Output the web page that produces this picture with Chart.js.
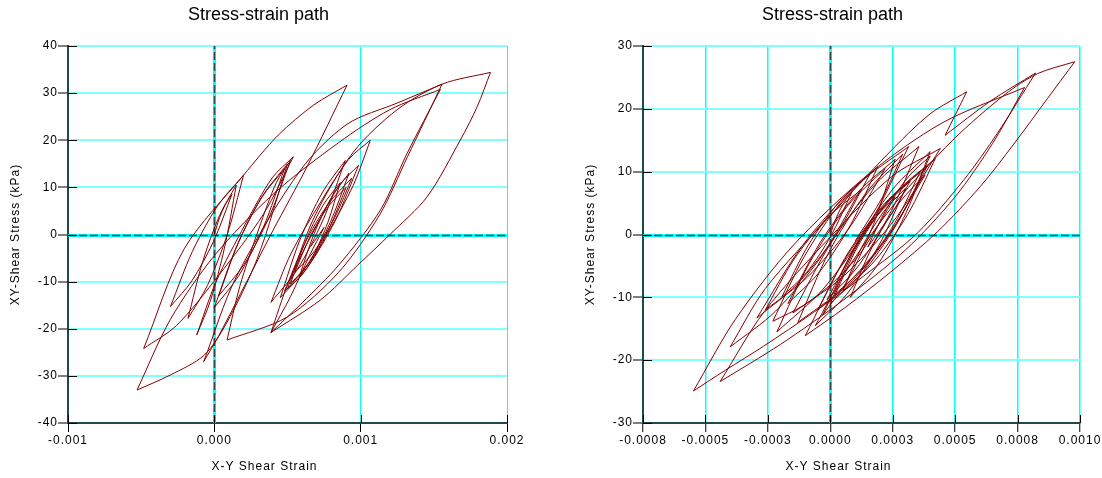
<!DOCTYPE html>
<html>
<head>
<meta charset="utf-8">
<title>Stress-strain path</title>
<script src="https://cdn.jsdelivr.net/npm/chart.js@4"></script>
<style>
  html, body { margin: 0; padding: 0; background: #fff; }
  #wrap { position: relative; width: 1102px; height: 478px; }
  canvas { position: absolute; top: 0; }
  #leftChart { left: 0; }
  #rightChart { left: 575px; }
</style>
</head>
<body>
<div id="wrap">
  <canvas id="leftChart" width="575" height="478"></canvas>
  <canvas id="rightChart" width="527" height="478"></canvas>
</div>
<script>
// Left panel path: strain (x 1e-4) and stress (kPa), in drawing order
const leftStrainE4 = [
  0, 0.36, 0.78, 1.2,
  -0.06, -1.53, -3.0,
  -1.5, 0.25, 2.0,
  0.86, -0.47, -1.8,
  -0.81, 0.35, 1.5,
  0.69, -0.26, -1.2,
  0.12, 2.1, 3.95, 5.4,
  3.35, 0.29, -2.58, -4.83,
  -2.05, 2.0, 4.37, 6.8, 9.07,
  6.34, 4.0, 1.8, 0.3, -0.73,
  1.5, 5.9, 9.07, 12.5, 15.56,
  13.2, 11.3, 8.5, 4.98, 0.87,
  1.74, 3.04, 4.25, 5.2,
  3.73, 2.02, 0.3,
  1.65, 3.23, 4.8,
  3.36, 1.68, 0.0,
  1.5, 3.25, 5.0,
  2.95, 0.8, -0.73, -3.0, -5.28,
  -3.0, 0.0, 4.0, 8.5, 12.0, 15.45,
  13.17, 11.35, 8.5, 6.0, 3.87,
  5.07, 6.87, 8.54, 9.86,
  8.26, 6.38, 4.51,
  5.84, 7.4, 8.95,
  7.43, 5.65, 3.87,
  5.23, 7.27, 9.17, 10.66,
  9.49, 7.73, 6.09, 4.8,
  6.18, 7.79, 9.4,
  8.23, 6.87, 5.5,
  6.55, 7.78, 9.0,
  7.86, 6.53, 5.2,
  6.22, 7.41, 8.6,
  7.76, 6.78, 5.8,
  6.82, 8.01, 9.2,
  7.94, 6.47, 5.0,
  6.8, 9.5, 12.5, 15.56, 18.87,
  17.96, 16.81, 14.54, 12.0, 9.8, 7.25, 3.87,
  5.2, 6.5, 7.5, 6.6
];
const leftStress = [
  0, 3.6, 6.5, 8.5,
  -1.5, -9.8, -15.3,
  -3.6, 6.2, 12.6,
  -0.2, -10.8, -17.8,
  -5.9, 4.0, 10.5,
  -2.9, -14.0, -21.3,
  -10.0, 2.1, 12.0, 16.5,
  4.3, -8.7, -19.3, -24.2,
  -3.0, 12.6, 21.1, 27.5, 31.7,
  14.4, 0.8, -12.5, -21.5, -27.0,
  -9.0, 13.7, 23.4, 27.9, 31.9,
  16.5, 4.2, -8.0, -17.5, -22.4,
  -11.0, 1.2, 11.1, 15.7,
  3.6, -6.4, -13.0,
  -1.7, 7.8, 14.0,
  1.6, -8.7, -15.5,
  -2.7, 8.0, 15.0,
  -5.0, -19.0, -25.7, -29.8, -33.0,
  -18.0, -4.5, 8.5, 19.5, 26.5, 30.8,
  17.2, 5.2, -6.5, -14.5, -20.8,
  -10.15, 1.2, 10.4, 14.7,
  2.9, -6.9, -13.4,
  -1.2, 9.0, 15.7,
  3.1, -7.5, -14.4,
  -4.1, 6.9, 15.9, 20.0,
  10.4, 0.2, -8.2, -12.0,
  -1.9, 6.5, 12.0,
  3.6, -3.4, -8.0,
  -0.4, 5.9, 10.0,
  1.4, -5.8, -10.5,
  -1.5, 6.1, 11.0,
  2.6, -4.4, -9.0,
  0.2, 7.9, 13.0,
  2.7, -5.9, -11.5,
  3.5, 17.5, 26.5, 31.9, 34.4,
  27.1, 20.05, 8.0, 0, -6.5, -13.9, -20.8,
  -13.2, -4.5, 1.5, -2.5
];

// Right panel path: strain (x 1e-4) and stress (kPa), in drawing order
const rightStrainE4 = [
  0, 0.26, 0.57, 0.87,
  0.03, -0.96, -1.94,
  -0.88, 0.36, 1.6,
  0.24, -1.35, -2.94,
  -1.12, 1.01, 3.14,
  1.56, -0.29, -2.14,
  -0.84, 0.68, 2.2,
  0.76, -0.92, -2.6,
  -1.46, -0.13, 1.2,
  -0.36, -2.19, -4.01,
  -2.6, 0, 2.3, 4.0, 5.46,
  4.6,
  6.4, 8.22,
  6.69, 5.35, 3.48, 1.34, -0.67, -2.68, -4.2, -5.48,
  -3.8, -1.5, 1.5, 4.5, 7.78,
  6.5, 5.0, 3.0, 0.5, -2.0, -4.41,
  -2.65, 0.0, 2.47, 4.41,
  2.64, 0.57, -1.5,
  0.02, 1.78, 3.55,
  2.45, 1.16, -0.13,
  1.17, 2.69, 4.21,
  3.1, 1.8, 0.5,
  1.25, 2.13, 3.01,
  1.93, 0.66, -0.6,
  0.6, 2.6, 4.9, 7.0, 8.3, 9.79,
  8.69, 7.35, 6.0, 4.28, 2.41, 0.6, -1.0,
  0.47, 2.19, 3.9,
  2.58, 1.04, -0.5,
  0.73, 2.17, 3.6,
  2.58, 1.39, 0.2,
  1.1, 2.15, 3.2,
  2.5, 1.5,
  2.25, 3.13, 4.0,
  2.8, 1.4, 0.0,
  0.78, 1.69, 2.6,
  2.0, 1.2,
  0.15, -1.08, -2.3,
  -1.04, 0.43, 1.9,
  0.82, -0.44, -1.7,
  -0.41, 1.1, 2.6,
  1.73, 0.72, -0.3,
  0.99, 2.5, 4.0,
  3.04, 1.92, 0.8,
  1.7, 2.75, 3.8,
  2.27, 0.49, -1.3,
  -0.04, 1.43, 2.9,
  2.1, 1.0
];
const rightStress = [
  0, 2.85, 5.2, 6.8,
  -0.2, -6.1, -9.9,
  -1.7, 5.2, 9.7,
  0.0, -8.0, -13.3,
  -1.8, 7.7, 14.0,
  1.6, -8.7, -15.5,
  -4.6, 4.5, 10.5,
  1.05, -6.8, -12.0,
  -4.0, 2.6, 7.0,
  -3.5, -12.2, -17.9,
  -8.6, 3.0, 12.8, 19.2, 22.7,
  15.8,
  21.2, 25.7,
  16.1, 8.7, 0.2, -6.6, -12.4, -17.8, -21.6, -24.9,
  -13.5, -1.8, 9.5, 17.8, 23.4,
  14.5, 6.0, -2.5, -10.5, -17.5, -23.4,
  -12.3, -0.4, 9.25, 13.7,
  2.7, -6.5, -12.5,
  -1.4, 7.9, 14.0,
  3.8, -4.8, -10.4,
  -0.95, 6.9, 12.1,
  3.2, -4.1, -9.0,
  -2.1, 3.6, 7.35,
  -1.85, -9.5, -14.5,
  -6.0, 5.0, 15.0, 22.3, 25.6, 27.5,
  21.6, 14.4, 7.6, 0.4, -6.0, -11.6, -16.1,
  -4.7, 4.8, 11.0,
  1.3, -6.7, -12.0,
  -2.8, 4.9, 10.0,
  1.8, -5.0, -9.5,
  -1.9, 4.4, 8.5,
  3.6, -2.0,
  4.1, 9.2, 12.5,
  2.6, -5.6, -11.0,
  -3.9, 2.1, 6.0,
  2.0, -3.0,
  -7.5, -11.3, -13.8,
  -3.5, 5.1, 10.8,
  1.6, -6.0, -11.0,
  -1.3, 6.7, 12.0,
  1.6, -7.1, -12.8,
  -1.9, 7.2, 13.2,
  3.5, -4.7, -10.0,
  -1.8, 5.0, 9.5,
  -0.4, -8.6, -14.0,
  -2.7, 6.6, 12.8,
  6.0, -1.0
];

// Axis ticks
const leftXTickValues = [-0.001, 0, 0.001, 0.002];
const leftXTickLabels = ['-0.001', '0.000', '0.001', '0.002'];
const leftYTickValues = [-40, -30, -20, -10, 0, 10, 20, 30, 40];
const rightXTickValues = [-0.00075, -0.0005, -0.00025, 0, 0.00025, 0.0005, 0.00075, 0.001];
const rightXTickLabels = ['-0.0008', '-0.0005', '-0.0003', '0.0000', '0.0003', '0.0005', '0.0008', '0.0010'];
const rightYTickValues = [-30, -20, -10, 0, 10, 20, 30];

const chartTitle = 'Stress-strain path';
const xTitle = 'X-Y Shear Strain';
const yTitle = 'XY-Shear Stress (kPa)';

const FONT = "'Liberation Sans', Arial, sans-serif";
Chart.defaults.font.family = FONT;
Chart.defaults.font.size = 12;
Chart.defaults.color = '#000';

// zero lines, inner tick marks and titles
const framePlugin = {
    id: 'frame',
    beforeDraw(chart) {
        chart.ctx.letterSpacing = '1px';
    },
    beforeDatasetsDraw(chart) {
        const { ctx, chartArea: a, scales: { x, y } } = chart;
        const x0 = Math.round(x.getPixelForValue(0)) + 0.5;
        const y0 = Math.round(y.getPixelForValue(0)) + 0.5;
        ctx.save();
        ctx.strokeStyle = '#00ffff';
        ctx.lineWidth = 3;
        ctx.beginPath();
        ctx.moveTo(x0, a.top); ctx.lineTo(x0, a.bottom);
        ctx.moveTo(a.left, y0); ctx.lineTo(a.right, y0);
        ctx.stroke();
        ctx.strokeStyle = '#1f4f4f';
        ctx.lineWidth = 1.5;
        ctx.setLineDash([8, 3]);
        ctx.beginPath();
        ctx.moveTo(x0, a.bottom); ctx.lineTo(x0, a.top);
        ctx.moveTo(a.left, y0); ctx.lineTo(a.right, y0);
        ctx.stroke();
        ctx.setLineDash([]);
        ctx.strokeStyle = '#000';
        ctx.lineWidth = 1;
        ctx.beginPath();
        y.ticks.forEach(t => {
            const p = Math.round(y.getPixelForValue(t.value)) + 0.5;
            ctx.moveTo(a.left, p); ctx.lineTo(a.left + 9, p);
        });
        x.ticks.forEach(t => {
            const p = Math.round(x.getPixelForValue(t.value)) + 0.5;
            ctx.moveTo(p, a.bottom); ctx.lineTo(p, a.bottom - 8);
        });
        ctx.stroke();
        ctx.restore();
    },
    afterDraw(chart) {
        const { ctx, chartArea: a } = chart;
        const mid = (a.left + a.right) / 2;
        ctx.save();
        ctx.fillStyle = '#000';
        ctx.textAlign = 'center';
        ctx.textBaseline = 'middle';
        ctx.letterSpacing = '0px';
        ctx.font = '18px ' + FONT;
        ctx.fillText(chartTitle, mid - 29, 15);
        ctx.letterSpacing = '1px';
        ctx.font = '12px ' + FONT;
        ctx.fillText(xTitle, mid - 23, 467);
        ctx.restore();
    }
};

// Split the path at stress reversals so each branch can be smoothed on its own
function splitBranches(points) {
    const branches = [];
    let cur = [points[0]];
    let dir = 0;
    for (let i = 1; i < points.length; i++) {
        const d = Math.sign(points[i].y - points[i - 1].y);
        if (dir !== 0 && d !== 0 && d !== dir) {
            branches.push(cur);
            cur = [points[i - 1]];
        }
        if (d !== 0) dir = d;
        cur.push(points[i]);
    }
    branches.push(cur);
    return branches;
}

function makeChart(canvasId, strainE4, stress, cfg) {
    const points = strainE4.map((v, i) => ({ x: v * 1e-4, y: stress[i] }));
    const datasets = splitBranches(points).map(branch => ({
        data: branch,
        showLine: true,
        borderColor: '#800000',
        borderWidth: 1,
        pointRadius: 0,
        tension: 0.3,
        fill: false
    }));

    return new Chart(document.getElementById(canvasId), {
        type: 'scatter',
        data: { datasets: datasets },
        options: {
            responsive: false,
            animation: false,
            devicePixelRatio: 1,
            layout: { padding: { left: 8, right: cfg.padRight, top: 46, bottom: 0 } },
            plugins: {
                legend: { display: false },
                tooltip: { enabled: false },
                title: { display: false }
            },
            scales: {
                x: {
                    type: 'linear',
                    min: cfg.xMin,
                    max: cfg.xMax,
                    afterBuildTicks: s => { s.ticks = cfg.xTicks.map(v => ({ value: v })); },
                    afterFit: s => { s.height = 55; },
                    ticks: {
                        callback: (v, i) => cfg.xLabels[i],
                        autoSkip: false,
                        maxRotation: 0,
                        minRotation: 0,
                        padding: 1
                    },
                    grid: {
                        color: '#00ffff',
                        lineWidth: cfg.vGridWidth,
                        tickLength: 9,
                        tickColor: '#000',
                        tickWidth: 1
                    },
                    border: { color: '#1f4a4a', width: 2 }
                },
                y: {
                    type: 'linear',
                    min: cfg.yTicks[0],
                    max: cfg.yTicks[cfg.yTicks.length - 1],
                    afterBuildTicks: s => { s.ticks = cfg.yTicks.map(v => ({ value: v })); },
                    afterFit: s => { s.width = 60; },
                    ticks: { padding: 0 },
                    grid: {
                        color: '#80ffff',
                        lineWidth: 2,
                        tickLength: 10,
                        tickColor: '#000',
                        tickWidth: 1
                    },
                    border: { color: '#1f4a4a', width: 2 },
                    title: {
                        display: true,
                        text: yTitle,
                        padding: { top: 0.8, bottom: 0 }
                    }
                }
            }
        },
        plugins: [framePlugin]
    });
}

makeChart('leftChart', leftStrainE4, leftStress, {
    xMin: -0.001, xMax: 0.002,
    xTicks: leftXTickValues, xLabels: leftXTickLabels,
    yTicks: leftYTickValues,
    padRight: 68, vGridWidth: 1
});

makeChart('rightChart', rightStrainE4, rightStress, {
    xMin: -0.00075, xMax: 0.001,
    xTicks: rightXTickValues, xLabels: rightXTickLabels,
    yTicks: rightYTickValues,
    padRight: 22, vGridWidth: 1.5
});
</script>
</body>
</html>
